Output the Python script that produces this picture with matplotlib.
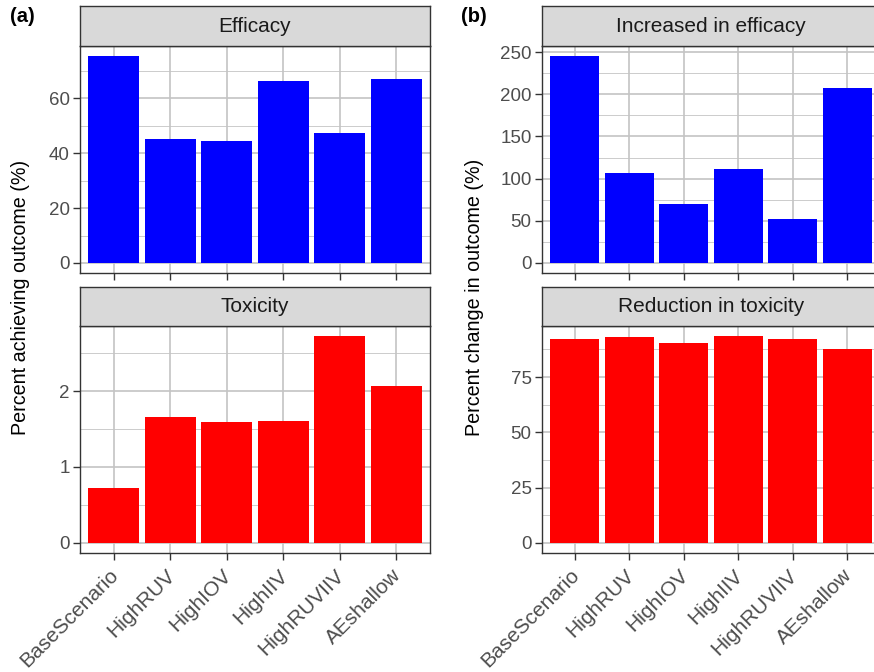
import numpy as np
import matplotlib
matplotlib.use("Agg")
import matplotlib.pyplot as plt
import matplotlib.transforms as mtransforms

# --- DATA ---
scenarios = ["BaseScenario", "HighRUV", "HighIOV", "HighIIV", "HighRUVIIV", "AEshallow"]
efficacy = [75.3, 45.2, 44.5, 66.3, 47.4, 67.0]
toxicity = [0.726, 1.657, 1.592, 1.605, 2.72, 2.064]
efficacy_increase = [245.0, 106.7, 70.0, 111.4, 52.3, 207.3]
toxicity_reduction = [92.0, 92.9, 90.3, 93.4, 92.0, 87.5]

# --- STYLE ---
plt.rcParams['font.family'] = ['Liberation Sans', 'DejaVu Sans']
W, H = 874, 672
BORDER = '#333333'
GRID = '#c4c4c4'
TICK_COL = '#4d4d4d'
STRIP_FILL = '#d9d9d9'

fig = plt.figure(figsize=(W / 100, H / 100), dpi=100)


def rect(x0, y0, x1, y1):
    # pixel box (top-left origin) -> figure fraction rect
    return [x0 / W, 1 - y1 / H, (x1 - x0) / W, (y1 - y0) / H]


def facet(x0, x1, y_strip, y_top, y_bot, values, color, title, major, minor, show_x):
    ax = fig.add_axes(rect(x0, y_top, x1, y_bot))
    x = np.arange(len(scenarios))
    ax.bar(x, values, width=0.9, color=color, zorder=2)
    top = max(values)
    ax.set_xlim(-0.6, len(scenarios) - 0.4)
    ax.set_ylim(-0.05 * top, top * 1.05)
    ax.set_yticks(major)
    ax.set_yticks(minor, minor=True)
    ax.set_xticks(x)
    ax.grid(True, which='major', color=GRID, lw=1.2, zorder=0)
    ax.grid(True, which='minor', axis='y', color=GRID, lw=0.6, zorder=0)
    ax.set_axisbelow(True)
    for s in ax.spines.values():
        s.set_color(BORDER)
        s.set_linewidth(1.0)
    ax.tick_params(axis='both', which='major', length=5, width=1.0, color=BORDER,
                   labelcolor=TICK_COL, labelsize=13.5, pad=2.5)
    ax.tick_params(axis='y', which='minor', length=0)
    ax.set_yticklabels([f"{v:g}" for v in major])
    if show_x:
        labels = ax.set_xticklabels(scenarios, rotation=45, ha='right', va='top',
                                    rotation_mode='anchor', fontsize=15)
        # nudge labels slightly left/down to sit like the original
        shift = mtransforms.ScaledTranslation(-5 / 100, -2 / 100, fig.dpi_scale_trans)
        for lab in labels:
            lab.set_transform(lab.get_transform() + shift)
    else:
        ax.set_xticklabels([])

    sax = fig.add_axes(rect(x0, y_strip, x1, y_top))
    sax.set_facecolor(STRIP_FILL)
    sax.set_xticks([])
    sax.set_yticks([])
    for s in sax.spines.values():
        s.set_color(BORDER)
        s.set_linewidth(1.0)
    sax.text(0.5, 0.5, title, ha='center', va='center', fontsize=15,
             color='#1a1a1a', transform=sax.transAxes)
    return ax


# panel (a)
facet(80, 430, 6, 46, 273.3, efficacy, '#0000ff', 'Efficacy',
      [0, 20, 40, 60], [10, 30, 50, 70], False)
facet(80, 430, 286.5, 326, 553.3, toxicity, '#ff0000', 'Toxicity',
      [0, 1, 2], [0.5, 1.5, 2.5], True)

# panel (b) - runs off the right edge like the original
facet(542, 880, 6, 46, 273.3, efficacy_increase, '#0000ff', 'Increased in efficacy',
      [0, 50, 100, 150, 200, 250], [25, 75, 125, 175, 225], False)
facet(542, 880, 286.5, 326, 553.3, toxicity_reduction, '#ff0000', 'Reduction in toxicity',
      [0, 25, 50, 75], [12.5, 37.5, 62.5, 87.5], True)

# shared y labels
fig.text(21 / W, 1 - 297 / H, 'Percent achieving outcome (%)', rotation=90,
         ha='center', va='center', fontsize=14.2, color='black')
fig.text(474 / W, 1 - 297 / H, 'Percent change in outcome (%)', rotation=90,
         ha='center', va='center', fontsize=14.2, color='black')

# panel tags
fig.text(10 / W, 1 - 17 / H, '(a)', fontsize=14.5, fontweight='bold', ha='left', va='center')
fig.text(461 / W, 1 - 17 / H, '(b)', fontsize=14.5, fontweight='bold', ha='left', va='center')

fig.savefig('out.png', dpi=100)
